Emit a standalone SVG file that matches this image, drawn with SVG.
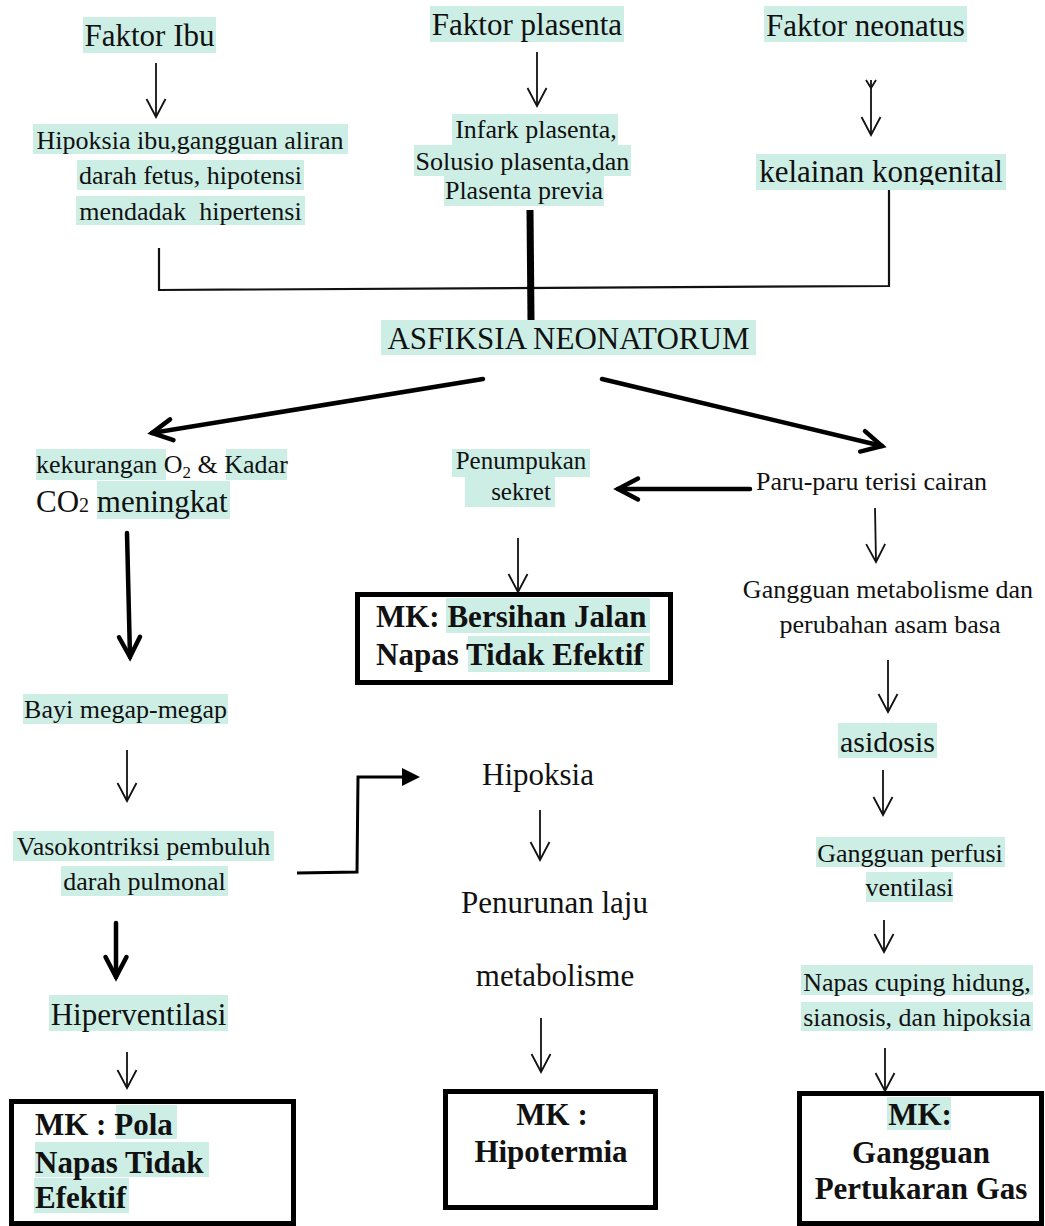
<svg xmlns="http://www.w3.org/2000/svg" width="1045" height="1226" viewBox="0 0 1045 1226">
<style>
text{font-family:"Liberation Serif","Times New Roman",serif;fill:#111;}
.f26{font-size:26px;}
.f25{font-size:25px;}
.f30{font-size:30px;}
.f31{font-size:31px;}
.b31{font-size:31px;font-weight:bold;}
.m{text-anchor:middle;}
.hl{fill:#cdeee5;}
.box{fill:#fff;stroke:#000;stroke-width:5;}
.thin{fill:none;stroke:#111;stroke-width:1.8;marker-end:url(#aThin);}
.thick{fill:none;stroke:#000;stroke-width:4.5;stroke-linecap:round;marker-end:url(#aThick);}
.ln{fill:none;stroke:#111;stroke-width:2.2;}
</style>
<defs>
<marker id="aThin" markerUnits="userSpaceOnUse" markerWidth="40" markerHeight="40" refX="0" refY="0" orient="auto" overflow="visible">
<path d="M-18,-9.5 L0,0 L-18,9.5" fill="none" stroke="#111" stroke-width="1.8" stroke-linejoin="miter"/>
</marker>
<marker id="aThick" markerUnits="userSpaceOnUse" markerWidth="40" markerHeight="40" refX="0" refY="0" orient="auto" overflow="visible">
<path d="M-20,-10.5 L0,0 L-20,10.5" fill="none" stroke="#000" stroke-width="4.5" stroke-linecap="round" stroke-linejoin="miter"/>
</marker>
<clipPath id="clipKel"><rect x="740" y="140" width="300" height="45"/></clipPath>
</defs>
<rect width="1045" height="1226" fill="#fff"/>

<g id="connectors">
<line class="thin" x1="156" y1="63" x2="156" y2="117"/>
<line class="thin" x1="537" y1="52" x2="537" y2="106"/>
<polyline points="866,80 871,88 876,80" fill="none" stroke="#111" stroke-width="1.8"/>
<line class="thin" x1="871" y1="80" x2="871" y2="135"/>
<polyline class="ln" points="159,248 159,290 889,286 889,185"/>
<line x1="530" y1="210" x2="531" y2="320" stroke="#000" stroke-width="7"/>
<line class="thick" x1="483" y1="379" x2="152" y2="433"/>
<line class="thick" x1="602" y1="379" x2="882" y2="446"/>
<line class="thick" x1="750" y1="489" x2="618" y2="489"/>
<line class="thin" x1="518" y1="538" x2="518" y2="592"/>
<line class="thin" x1="875" y1="508" x2="876" y2="562"/>
<line class="thin" x1="888" y1="660" x2="888" y2="712"/>
<line class="thin" x1="883" y1="770" x2="883" y2="815"/>
<line class="thin" x1="884" y1="920" x2="884" y2="952"/>
<line class="thin" x1="885" y1="1048" x2="885" y2="1091"/>
<line class="thick" x1="127" y1="533" x2="130" y2="657"/>
<line class="thin" x1="127" y1="750" x2="127" y2="801"/>
<polyline points="297,873 357,872 358,777 404,777" fill="none" stroke="#000" stroke-width="3"/>
<polygon points="402,768 420,777 402,786" fill="#000"/>
<line class="thin" x1="540" y1="810" x2="540" y2="860"/>
<line class="thin" x1="541" y1="1018" x2="541" y2="1072"/>
<line class="thick" x1="116" y1="923" x2="116" y2="977"/>
<line class="thin" x1="127" y1="1052" x2="127" y2="1088"/>
</g>

<g id="faktor-ibu">
<rect class="hl" x="83" y="17" width="133" height="36"/>
<text class="f31 m" x="149.5" y="46">Faktor Ibu</text>
</g>
<g id="faktor-plasenta">
<rect class="hl" x="430" y="6" width="194" height="36"/>
<text class="f31 m" x="527" y="35">Faktor plasenta</text>
</g>
<g id="faktor-neonatus">
<rect class="hl" x="764" y="6" width="203" height="36"/>
<text class="f31 m" x="865.5" y="36">Faktor neonatus</text>
</g>
<g id="hipoksia-ibu">
<rect class="hl" x="33" y="124" width="315" height="30"/>
<rect class="hl" x="77" y="160" width="227" height="30"/>
<rect class="hl" x="76" y="196" width="229" height="29"/>
<text class="f26 m" x="190" y="149">Hipoksia ibu,gangguan aliran</text>
<text class="f26 m" x="190.5" y="184">darah fetus, hipotensi</text>
<text class="f26 m" x="190.5" y="220" xml:space="preserve">mendadak  hipertensi</text>
</g>
<g id="infark-plasenta">
<rect class="hl" x="452" y="114" width="166" height="31"/>
<rect class="hl" x="414" y="145" width="217" height="31"/>
<rect class="hl" x="444" y="176" width="160" height="30"/>
<text class="f26 m" x="536" y="138">Infark plasenta,</text>
<text class="f26 m" x="522.5" y="170">Solusio plasenta,dan</text>
<text class="f26 m" x="524" y="199">Plasenta previa</text>
</g>
<g id="kelainan-kongenital">
<rect class="hl" x="756" y="154" width="250" height="36"/>
<text class="f31 m" x="881" y="182" clip-path="url(#clipKel)">kelainan kongenital</text>
</g>
<g id="asfiksia">
<rect class="hl" x="381" y="320" width="375" height="35"/>
<text class="f31 m" x="568.5" y="349">ASFIKSIA NEONATORUM</text>
</g>
<g id="kekurangan-o2">
<rect class="hl" x="36" y="449" width="130" height="31"/>
<rect class="hl" x="226" y="449" width="61" height="31"/>
<rect class="hl" x="97" y="481" width="133" height="38"/>
<text class="f26" x="36" y="473">kekurangan O<tspan font-size="17" dy="5">2</tspan><tspan dy="-5"> &amp; Kadar</tspan></text>
<text class="f31" x="36" y="512">CO<tspan font-size="20">2</tspan> meningkat</text>
</g>
<g id="penumpukan-sekret">
<rect class="hl" x="452" y="449" width="138" height="28"/>
<rect class="hl" x="465" y="477" width="90" height="30"/>
<text class="f25 m" x="521" y="469">Penumpukan</text>
<text class="f25 m" x="521" y="500">sekret</text>
</g>
<g id="paru-paru">
<text class="f26" x="756" y="490">Paru-paru terisi cairan</text>
</g>
<g id="mk-bersihan">
<rect class="box" x="357.5" y="594.5" width="313" height="88"/>
<rect class="hl" x="446" y="598" width="204" height="35"/>
<rect class="hl" x="468" y="636" width="182" height="36"/>
<text class="b31" x="376" y="627">MK: Bersihan Jalan</text>
<text class="b31" x="376" y="665">Napas Tidak Efektif</text>
</g>
<g id="gangguan-metabolisme">
<text class="f26 m" x="888" y="598">Gangguan metabolisme dan</text>
<text class="f26 m" x="890" y="633">perubahan asam basa</text>
</g>
<g id="asidosis">
<rect class="hl" x="838" y="723" width="99" height="35"/>
<text class="f30 m" x="887.5" y="752">asidosis</text>
</g>
<g id="gangguan-perfusi">
<rect class="hl" x="816" y="837" width="189" height="30"/>
<rect class="hl" x="866" y="872" width="87" height="30"/>
<text class="f26 m" x="910" y="862">Gangguan perfusi</text>
<text class="f26 m" x="909.5" y="896">ventilasi</text>
</g>
<g id="napas-cuping">
<rect class="hl" x="801" y="965" width="232" height="30"/>
<rect class="hl" x="801" y="1002" width="232" height="29"/>
<text class="f26 m" x="917" y="991">Napas cuping hidung,</text>
<text class="f26 m" x="917" y="1026">sianosis, dan hipoksia</text>
</g>
<g id="mk-gangguan-gas">
<rect class="box" x="799.5" y="1093.5" width="242" height="130"/>
<rect class="hl" x="887" y="1097" width="64" height="33"/>
<text class="b31 m" x="920" y="1125">MK:</text>
<text class="b31 m" x="921" y="1163">Gangguan</text>
<text class="b31 m" x="921" y="1199">Pertukaran Gas</text>
</g>
<g id="bayi-megap">
<rect class="hl" x="23" y="694" width="205" height="30"/>
<text class="f26 m" x="125.5" y="718">Bayi megap-megap</text>
</g>
<g id="vasokontriksi">
<rect class="hl" x="13" y="831" width="261" height="30"/>
<rect class="hl" x="61" y="866" width="167" height="30"/>
<text class="f26 m" x="143.5" y="855">Vasokontriksi pembuluh</text>
<text class="f26 m" x="144.5" y="890">darah pulmonal</text>
</g>
<g id="hipoksia">
<text class="f31 m" x="538" y="785">Hipoksia</text>
</g>
<g id="penurunan-laju">
<text class="f31 m" x="554.5" y="913">Penurunan laju</text>
<text class="f31 m" x="555" y="986">metabolisme</text>
</g>
<g id="mk-hipotermia">
<rect class="box" x="445.5" y="1091.5" width="210" height="116"/>
<text class="b31 m" x="552" y="1125">MK :</text>
<text class="b31 m" x="551" y="1162">Hipotermia</text>
</g>
<g id="hiperventilasi">
<rect class="hl" x="49" y="995" width="179" height="36"/>
<text class="f31 m" x="138.5" y="1025">Hiperventilasi</text>
</g>
<g id="mk-pola-napas">
<rect class="box" x="11.5" y="1101.5" width="282" height="122"/>
<rect class="hl" x="116" y="1105" width="61" height="34"/>
<rect class="hl" x="35" y="1142" width="174" height="35"/>
<rect class="hl" x="34" y="1178" width="95" height="35"/>
<text class="b31" x="35" y="1135">MK : Pola</text>
<text class="b31" x="35" y="1173">Napas Tidak</text>
<text class="b31" x="35" y="1208">Efektif</text>
</g>
</svg>
